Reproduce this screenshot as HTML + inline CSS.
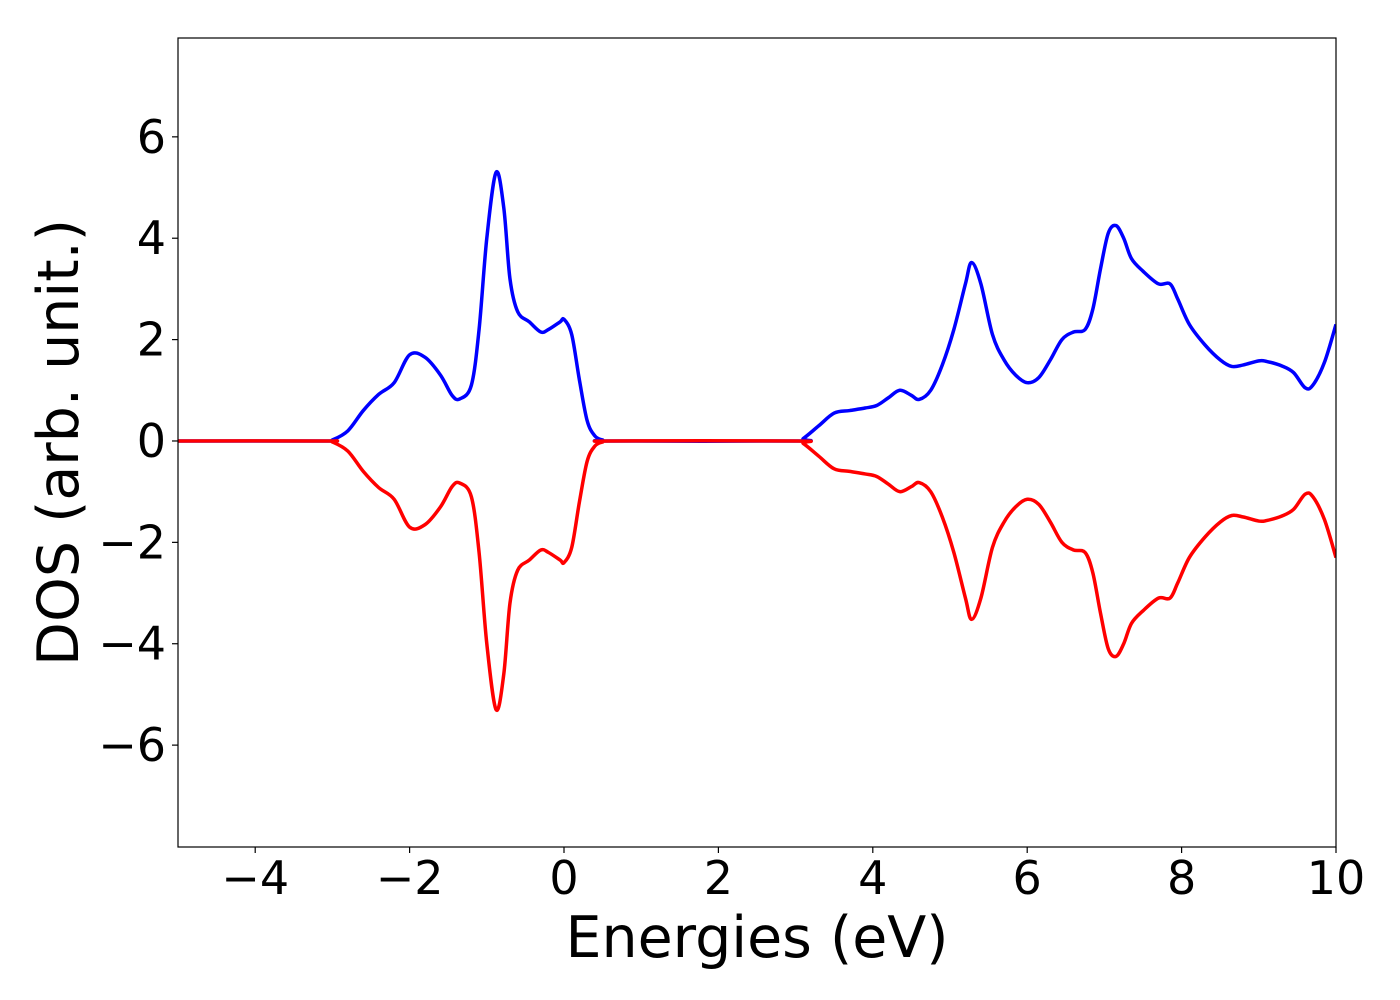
<!DOCTYPE html>
<html><head><meta charset="utf-8">
<style>
html,body{margin:0;padding:0;background:#fff;}
svg{display:block;font-family:"DejaVu Sans","Liberation Sans",sans-serif;}
</style></head>
<body>
<svg id="chart" width="1400" height="1000" viewBox="0 0 1400 1000">
<g id="plot"></g>
</svg>
<script>
const energies = [-5,-3.1,-3.0,-2.8,-2.6,-2.4,-2.2,-2.0,-1.8,-1.6,-1.45,-1.35,-1.2,-1.1,-1.0,-0.88,-0.78,-0.7,-0.6,-0.45,-0.3,-0.2,-0.05,0.0,0.1,0.2,0.3,0.4,0.5,0.6,3.0,3.1,3.3,3.5,3.7,3.9,4.05,4.2,4.35,4.5,4.6,4.75,4.9,5.05,5.2,5.28,5.4,5.55,5.7,5.85,6.0,6.15,6.3,6.45,6.6,6.75,6.85,6.95,7.05,7.15,7.25,7.35,7.5,7.7,7.85,7.95,8.1,8.3,8.5,8.65,8.8,9.0,9.1,9.3,9.45,9.6,9.7,9.85,10];
const dosUp = [0,0,0.02,0.2,0.6,0.92,1.15,1.7,1.65,1.3,0.9,0.83,1.1,2.2,4.0,5.3,4.6,3.2,2.55,2.35,2.15,2.2,2.35,2.4,2.1,1.2,0.4,0.1,0.02,0,0,0.05,0.3,0.55,0.6,0.65,0.7,0.85,1.0,0.9,0.82,1.0,1.5,2.2,3.1,3.52,3.1,2.1,1.6,1.3,1.15,1.25,1.6,2.0,2.15,2.2,2.6,3.4,4.1,4.25,4.0,3.6,3.35,3.1,3.1,2.8,2.3,1.9,1.6,1.47,1.5,1.58,1.57,1.48,1.35,1.05,1.1,1.55,2.3];
const dosDown = dosUp.map(v => -v);
const xTicks = [-4,-2,0,2,4,6,8,10];
const yTicks = [-6,-4,-2,0,2,4,6];

const L=178,R=1336,T=38,B=847, X0=-5,X1=10, Y0=-8.01,Y1=7.95;
const sx = v => L + (v - X0) / (X1 - X0) * (R - L);
const sy = v => B - (v - Y0) / (Y1 - Y0) * (B - T);
const NS="http://www.w3.org/2000/svg";
const svg=document.getElementById('chart'), plot=document.getElementById('plot');
function mk(tag, attrs, parent){const e=document.createElementNS(NS,tag);for(const k in attrs)e.setAttribute(k,attrs[k]);(parent||svg).appendChild(e);return e;}

function smoothPath(xs, ys){
  const p = xs.map((x,i)=>[sx(x), sy(ys[i])]);
  let d = `M${p[0][0]},${p[0][1]}`;
  for(let i=0;i<p.length-1;i++){
    const p0=p[Math.max(i-1,0)],p1=p[i],p2=p[i+1],p3=p[Math.min(i+2,p.length-1)];
    const c1=[p1[0]+(p2[0]-p0[0])/6, p1[1]+(p2[1]-p0[1])/6];
    const c2=[p2[0]-(p3[0]-p1[0])/6, p2[1]-(p3[1]-p1[1])/6];
    d+=` C${c1[0]},${c1[1]} ${c2[0]},${c2[1]} ${p2[0]},${p2[1]}`;
  }
  return d;
}
const defs=mk('defs',{});
const cp=mk('clipPath',{id:'clip'},defs);
mk('rect',{x:L,y:T,width:R-L,height:B-T},cp);

const up=mk('path',{d:smoothPath(energies,dosUp),fill:'none',stroke:'#0000ff','stroke-width':3.5,'clip-path':'url(#clip)','stroke-linejoin':'round'},plot);


const dn=mk('path',{d:smoothPath(energies,dosDown),fill:'none',stroke:'#ff0000','stroke-width':3.5,'clip-path':'url(#clip)','stroke-linejoin':'round'},plot);



const frame=mk('rect',{x:L,y:T,width:R-L,height:B-T,fill:'none',stroke:'#000','stroke-width':1.2});



xTicks.forEach(v=>{
  const x=sx(v);
  const t=mk('line',{x1:x,y1:B,x2:x,y2:B+6,stroke:'#000','stroke-width':1.2});
  
  
  const lb=mk('text',{x:x,y:894,'text-anchor':'middle','font-size':46});
  lb.textContent = v<0 ? '\u2212'+Math.abs(v) : String(v);
  
  
});
yTicks.forEach(v=>{
  const y=sy(v);
  const t=mk('line',{x1:L-6,y1:y,x2:L,y2:y,stroke:'#000','stroke-width':1.2});
  
  
  const lb=mk('text',{x:L-12,y:y+16,'text-anchor':'end','font-size':46});
  lb.textContent = v<0 ? '\u2212'+Math.abs(v) : String(v);
  
  
});
const xt=mk('text',{x:(L+R)/2,y:957,'text-anchor':'middle','font-size':57});
xt.textContent='Energies (eV)';


const yt=mk('text',{x:0,y:0,'text-anchor':'middle','font-size':57,transform:`translate(78,${(T+B)/2}) rotate(-90)`});
yt.textContent='DOS (arb. unit.)';


</script>
</body></html>
